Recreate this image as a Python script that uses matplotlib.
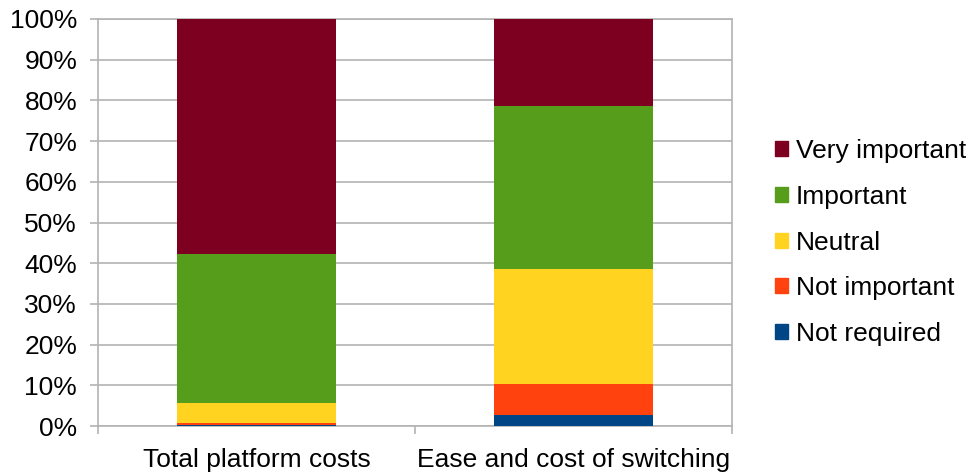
import numpy as np
import matplotlib.pyplot as plt
from matplotlib.patches import Patch
from matplotlib.ticker import FuncFormatter

plt.rcParams['font.family'] = ['Liberation Sans', 'DejaVu Sans']

categories = ['Total platform costs', 'Ease and cost of switching']
levels = ['Not required', 'Not important', 'Neutral', 'Important', 'Very important']
colors = ['#004586', '#ff420e', '#ffd320', '#579d1c', '#7e0021']

# percent of answers, bottom to top
not_required = [0.3, 2.6]
not_important = [0.5, 7.7]
neutral = [4.8, 28.3]
important = [36.7, 40.0]
very_important = [57.7, 21.4]

series = [not_required, not_important, neutral, important, very_important]

fig = plt.figure(figsize=(9.69, 4.72), dpi=100)
ax = fig.add_axes([98/969, 1-426/472, (732-98)/969, (426-19)/472])

x = np.arange(len(categories))
bottom = np.zeros(len(categories))
for vals, col in zip(series, colors):
    ax.bar(x, vals, width=0.5, bottom=bottom, color=col, zorder=3)
    bottom += np.array(vals)

ax.set_xlim(-0.5, 1.5)
ax.set_ylim(0, 100)
ax.set_yticks(np.arange(0, 101, 10))
ax.yaxis.set_major_formatter(FuncFormatter(lambda v, p: '%d%%' % v))
ax.set_xticks(x)
ax.set_xticklabels(categories)
ax.set_xticks([-0.5, 0.5, 1.5], minor=True)
ax.tick_params(axis='x', which='major', length=0, pad=16, labelsize=19)
ax.tick_params(axis='x', which='minor', length=6, color='#b3b3b3', width=1.2)
ax.tick_params(axis='y', length=6, color='#b3b3b3', width=1.2, labelsize=19, pad=9)
ax.grid(axis='y', color='#b3b3b3', linewidth=1.2, zorder=0)
for s in ax.spines.values():
    s.set_color('#b3b3b3')
    s.set_linewidth(1.2)

handles = [Patch(color=c, label=l) for c, l in zip(colors, levels)][::-1]
fig.legend(handles=handles, loc='center left', bbox_to_anchor=(764/969, 1-242.5/472),
           frameon=False, fontsize=19, handlelength=0.5, handleheight=0.5,
           handletextpad=0.3, labelspacing=0.82, borderaxespad=0)

fig.savefig('out.png', dpi=100)
